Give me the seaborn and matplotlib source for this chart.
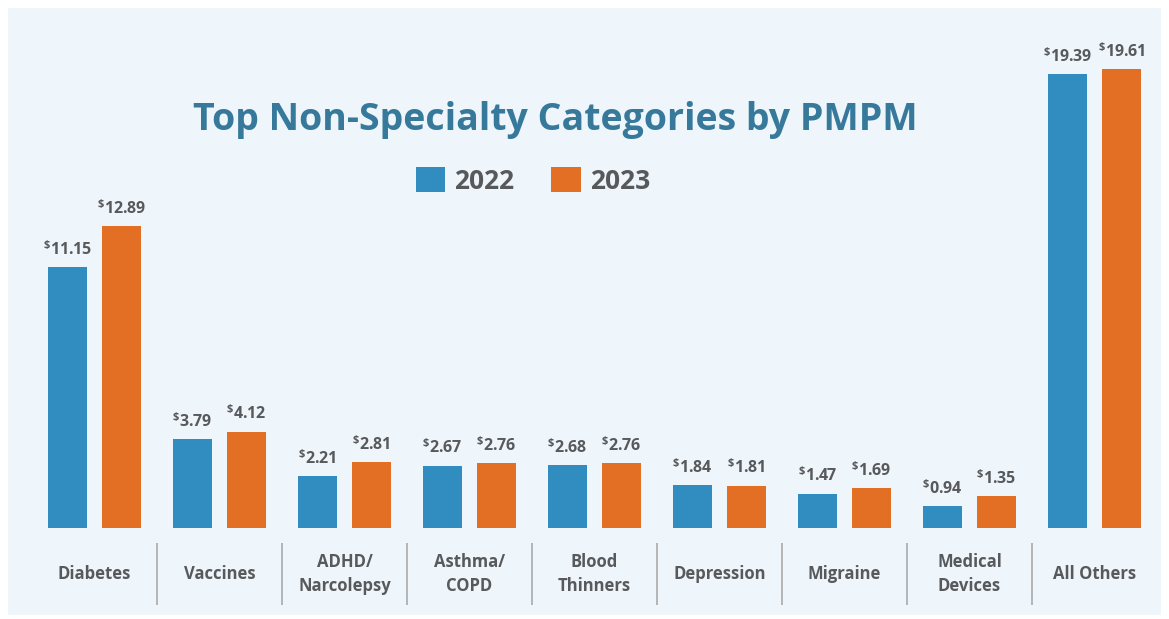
import pandas as pd
import numpy as np
import matplotlib
matplotlib.use("Agg")
import matplotlib.pyplot as plt
from matplotlib.patches import Rectangle
import seaborn as sns

# Data
categories = ["Diabetes", "Vaccines", "ADHD/\nNarcolepsy", "Asthma/\nCOPD", "Blood\nThinners",
              "Depression", "Migraine", "Medical\nDevices", "All Others"]
pmpm_2022 = [11.15, 3.79, 2.21, 2.67, 2.68, 1.84, 1.47, 0.94, 19.39]
pmpm_2023 = [12.89, 4.12, 2.81, 2.76, 2.76, 1.81, 1.69, 1.35, 19.61]
years = ["2022", "2023"]

df = pd.DataFrame({
    "Category": categories * 2,
    "Year": [years[0]] * len(categories) + [years[1]] * len(categories),
    "PMPM": pmpm_2022 + pmpm_2023,
})

BLUE = "#318DBF"
ORANGE = "#E36F24"
GREY = "#58595B"
TITLE = "#37799B"
BG = "#EEF5FB"

sns.set_theme(style="white")
plt.rcParams["font.family"] = ["Open Sans", "DejaVu Sans"]
plt.rcParams["mathtext.fontset"] = "custom"
plt.rcParams["mathtext.rm"] = "Open Sans:bold"
plt.rcParams["mathtext.bf"] = "Open Sans:bold"
plt.rcParams["mathtext.it"] = "Open Sans:bold"

fig = plt.figure(figsize=(11.69, 6.19), dpi=100, facecolor="white")
# light panel behind the chart
fig.patches.append(Rectangle((8 / 1169, 4 / 619), 1153 / 1169, 607 / 619,
                             transform=fig.transFigure, facecolor=BG, edgecolor="none", zorder=-10))

ax = fig.add_axes([32 / 1169, 91 / 619, 1125 / 1169, 498 / 619])
ax.set_facecolor("none")
ax.set_zorder(2)

sns.barplot(data=df, x="Category", y="PMPM", hue="Year", palette=[BLUE, ORANGE],
            width=0.864, gap=0.26, saturation=1, linewidth=0, ax=ax, legend=True)

ax.set_xlim(-0.5, len(categories) - 0.5)
ax.set_ylim(0, 21.28)
for s in ax.spines.values():
    s.set_visible(False)
ax.set_yticks([])
ax.set_xticks([])
ax.set_xlabel("")
ax.set_ylabel("")

# value labels with superscript dollar sign
for cont in ax.containers:
    for bar in cont:
        h = bar.get_height()
        ax.annotate(r"$^{\$}$" + f"{h:.2f}", (bar.get_x() + bar.get_width() / 2, h),
                    xytext=(0, 6), textcoords="offset points", ha="center", va="bottom",
                    fontsize=11.5, fontweight="bold", color=GREY)

# category labels under the bars
for i, cat in enumerate(categories):
    ax.annotate(cat, (i, 0), xycoords=("data", "axes fraction"), xytext=(0, -33),
                textcoords="offset points", ha="center", va="center", fontsize=12,
                fontweight="bold", color=GREY, linespacing=1.4, annotation_clip=False)

# separators between categories
ax.vlines(np.arange(len(categories) - 1) + 0.5, -0.155, -0.030,
          transform=ax.get_xaxis_transform(), color="#AAAAAA", lw=1.2, clip_on=False)

fig.text(0.475, 0.806, "Top Non-Specialty Categories by PMPM", ha="center", va="center",
         fontsize=27, fontweight="bold", color=TITLE)

leg = ax.legend(loc="center", bbox_to_anchor=(0.456, 0.708), bbox_transform=fig.transFigure,
                ncol=2, frameon=False, fontsize=19, handlelength=1.1, handleheight=1.1,
                handletextpad=0.35, columnspacing=1.4, title=None)
for t in leg.get_texts():
    t.set_color(GREY)
    t.set_fontweight("bold")

fig.savefig("out.png", dpi=100, facecolor="white")
